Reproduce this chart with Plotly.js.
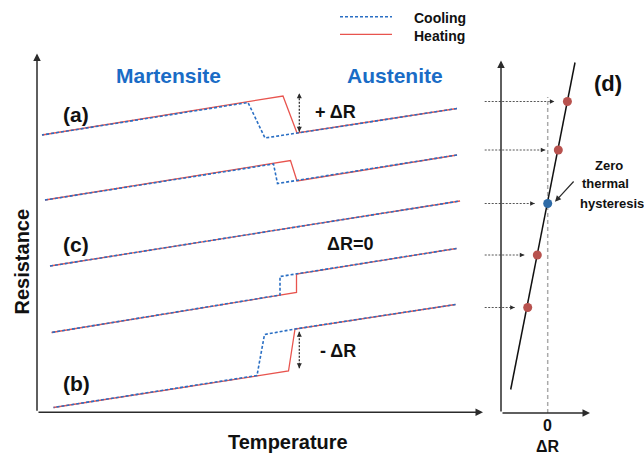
<!DOCTYPE html>
<html>
<head>
<meta charset="utf-8">
<script src="https://cdn.plot.ly/plotly-3.0.1.min.js"></script>
<style>html,body{margin:0;padding:0;background:#fff;}#chart{width:644px;height:454px;}</style>
</head>
<body>
<div id="chart"></div>
<script>
// ---- Data (schematic) ----
// Curve (a): large positive ΔR
const tempAHeat = [1, 49.2, 52, 84];
const resAHeat  = [55.4, 63.2, 55.8, 60.7];
const tempACool = [84, 52, 45.6, 42.2, 1];
const resACool  = [60.7, 55.8, 54.8, 61.9, 55.4];
// Curve between (a) and (c): small positive ΔR
const tempA2Heat = [1.6, 50.7, 52, 84];
const resA2Heat  = [42.4, 50.3, 46.2, 51.4];
const tempA2Cool = [84, 52, 48.1, 47.3, 1.6];
const resA2Cool  = [51.4, 46.2, 45.7, 49.6, 42.4];
// Curve (c): ΔR = 0
const tempC = [2.6, 84.6];
const resC  = [29.2, 42.2];
// Curve between (c) and (b): small negative ΔR
const tempB2Heat = [2.9, 51.9, 51.9, 83.9];
const resB2Heat  = [15.9, 23.9, 27.6, 32.7];
const tempB2Cool = [83.9, 51.9, 48.6, 48.6, 2.9];
const resB2Cool  = [32.7, 27.6, 27.1, 23.4, 15.9];
// Curve (b): large negative ΔR
const tempBHeat = [3.3, 50.3, 51.6, 83.7];
const resBHeat  = [0.9, 8.2, 16.6, 21.5];
const tempBCool = [83.7, 51.6, 45.5, 44, 3.3];
const resBCool  = [21.5, 16.6, 15.5, 7.3, 0.9];
// Panel (d): ΔR of each curve
const deltaR   = [1.97, 1.06, 0.0, -1.04, -2.0];
const levelY   = [62.1, 52.4, 41.7, 31.4, 20.9];
const fitDeltaR = [-3.7, 2.73];
const fitY      = [4.5, 69.9];
// Legend labels
const legendLabels = ['Cooling', 'Heating'];

// ---- Styles ----
const RED = '#e8544e', BLUE = '#2a6fc4', TXTBLUE = '#1a6cc6', AX = '#2b2b2b';
const FONT = 'Liberation Sans, Arial, Helvetica, sans-serif';
const heatLine = {color: RED, width: 1.3};
const coolLine = {color: BLUE, width: 1.6, dash: '3px,2px'};

const traces = [];
function addPair(tH, rH, tC, rC) {
  traces.push({x: tH, y: rH, type: 'scatter', mode: 'lines', line: heatLine, name: 'Heating',
    showlegend: false, hoverinfo: 'skip'});
  traces.push({x: tC, y: rC, type: 'scatter', mode: 'lines', line: coolLine, name: 'Cooling',
    showlegend: false, hoverinfo: 'skip'});
}
addPair(tempAHeat, resAHeat, tempACool, resACool);
addPair(tempA2Heat, resA2Heat, tempA2Cool, resA2Cool);
addPair(tempC, resC, tempC, resC);
addPair(tempB2Heat, resB2Heat, tempB2Cool, resB2Cool);
addPair(tempBHeat, resBHeat, tempBCool, resBCool);

// vertical dotted double arrows (ΔR markers) in main panel
const dArrowT = [52.46, 52.46, null, 52.46, 52.46];
const dArrowR = [56.06, 63.74, null, 8.74, 16.06];
traces.push({x: dArrowT, y: dArrowR, type: 'scatter', mode: 'lines', line: {color: '#222', width: 1.2, dash: '2px,1.5px'},
  showlegend: false, hoverinfo: 'skip'});

// Panel (d)
const arrowTail = -6.3, arrowGap = 1.3;
const hx = [], hy = [];
deltaR.forEach((d, i) => { hx.push(arrowTail, d - arrowGap, null); hy.push(levelY[i], levelY[i], null); });
traces.push({x: hx, y: hy, xaxis: 'x2', yaxis: 'y', type: 'scatter', mode: 'lines',
  line: {color: '#444', width: 0.9, dash: '2px,1.5px'}, showlegend: false, hoverinfo: 'skip'});
traces.push({x: [0, 0], y: [-0.2, 63], xaxis: 'x2', yaxis: 'y', type: 'scatter', mode: 'lines',
  line: {color: '#aaaaaa', width: 1.5, dash: '4px,3px'}, showlegend: false, hoverinfo: 'skip'});
traces.push({x: fitDeltaR, y: fitY, xaxis: 'x2', yaxis: 'y', type: 'scatter', mode: 'lines',
  line: {color: '#111', width: 1.5}, showlegend: false, hoverinfo: 'skip'});
traces.push({x: deltaR, y: levelY, xaxis: 'x2', yaxis: 'y', type: 'scatter', mode: 'markers',
  marker: {size: 9, color: deltaR.map(d => d === 0 ? '#2d6aa6' : '#b8524e')},
  showlegend: false, hoverinfo: 'skip', cliponaxis: false});

// ---- Annotations ----
function arrow(xref, x, y, ax, ay, w, size) {
  return {xref: xref, yref: 'y', axref: xref, ayref: 'y', x: x, y: y, ax: ax, ay: ay, text: '',
    showarrow: true, arrowhead: 2, arrowsize: size || 1, arrowwidth: w || 1.5, arrowcolor: AX};
}
const ann = [
  arrow('x', 0, 71.7, 0, -0.06),
  arrow('x', 89.2, -0.06, 0, -0.06),
  arrow('x2', -4.67, 70.3, -4.67, -0.2),
  arrow('x2', 4.23, -0.2, -4.67, -0.2),
  // double arrow heads
  arrow('x', 52.46, 63.74, 52.46, 62.6, 1, 1),
  arrow('x', 52.46, 56.06, 52.46, 57.2, 1, 1),
  arrow('x', 52.46, 16.06, 52.46, 14.9, 1, 1),
  arrow('x', 52.46, 8.74, 52.46, 9.9, 1, 1),
  // zero thermal hysteresis arrow
  arrow('x2', 0.73, 42.06, 2.73, 46.4, 1.2, 1),
];
deltaR.forEach((d, i) => ann.push(arrow('x2', d - arrowGap, levelY[i], d - arrowGap - 0.35, levelY[i], 0.9, 1)));

function txt(xref, yref, x, y, text, size, color, extra) {
  return Object.assign({xref: xref, yref: yref, x: x, y: y, text: '<b>' + text + '</b>', showarrow: false,
    font: {family: FONT, size: size, color: color || '#111'}, xanchor: 'center', yanchor: 'middle'}, extra || {});
}
ann.push(
  txt('x', 'y', 26.26, 67.3, 'Martensite', 21, TXTBLUE),
  txt('x', 'y', 71.66, 67.3, 'Austenite', 21, TXTBLUE),
  txt('x', 'y', 7.86, 59.6, '(a)', 21),
  txt('x', 'y', 7.86, 33.6, '(c)', 21),
  txt('x', 'y', 7.94, 5.7, '(b)', 21),
  txt('x', 'y', 59.66, 60.1, '+ ΔR', 18),
  txt('x', 'y', 62.6, 33.7, 'ΔR=0', 18),
  txt('x', 'y', 60.2, 12.2, '- ΔR', 18),
  txt('paper', 'paper', 288.3 / 644, 1 - 442 / 454, 'Temperature', 20),
  txt('paper', 'paper', 21 / 644, 1 - 261.5 / 454, 'Resistance', 20, '#111', {textangle: -90}),
  txt('paper', 'paper', 608.3 / 644, 1 - 83.3 / 454, '(d)', 22),
  txt('paper', 'paper', 593 / 644, 1 - 165 / 454, 'Zero', 13, '#111', {xanchor: 'left'}),
  txt('paper', 'paper', 580 / 644, 1 - 183.5 / 454, 'thermal', 13, '#111', {xanchor: 'left'}),
  txt('paper', 'paper', 578 / 644, 1 - 203 / 454, 'hysteresis', 13, '#111', {xanchor: 'left'}),
  txt('x2', 'paper', 0, 1 - 435.5 / 454, '0<br>ΔR', 16),
  // legend labels
  txt('paper', 'paper', 412 / 644, 1 - 17.5 / 454, legendLabels[0], 14, '#111', {xanchor: 'left'}),
  txt('paper', 'paper', 412 / 644, 1 - 35.5 / 454, legendLabels[1], 14, '#111', {xanchor: 'left'})
);

// legend line samples
const shapes = [
  {type: 'line', xref: 'paper', yref: 'paper', x0: 340 / 644, x1: 392 / 644, y0: 1 - 16.7 / 454, y1: 1 - 16.7 / 454,
    line: {color: BLUE, width: 1.6, dash: '3px,2px'}},
  {type: 'line', xref: 'paper', yref: 'paper', x0: 340 / 644, x1: 392 / 644, y0: 1 - 34.3 / 454, y1: 1 - 34.3 / 454,
    line: {color: RED, width: 1.3}}
];

const hidden = {visible: false, fixedrange: true};
const layout = {
  width: 644, height: 454, autosize: false,
  margin: {l: 0, r: 0, t: 0, b: 0, pad: 0},
  paper_bgcolor: '#fff', plot_bgcolor: 'rgba(0,0,0,0)',
  xaxis: Object.assign({domain: [32 / 644, 487 / 644], range: [-1, 90], anchor: 'y'}, hidden),
  yaxis: Object.assign({domain: [1 - 417 / 454, 1 - 52 / 454], range: [-1, 72], anchor: 'x'}, hidden),
  xaxis2: Object.assign({domain: [480 / 644, 600 / 644], range: [-6.77, 5.23], anchor: 'y'}, hidden),
  showlegend: false,
  annotations: ann,
  shapes: shapes
};
Plotly.newPlot('chart', traces, layout, {staticPlot: true, displayModeBar: false});
</script>
</body>
</html>
